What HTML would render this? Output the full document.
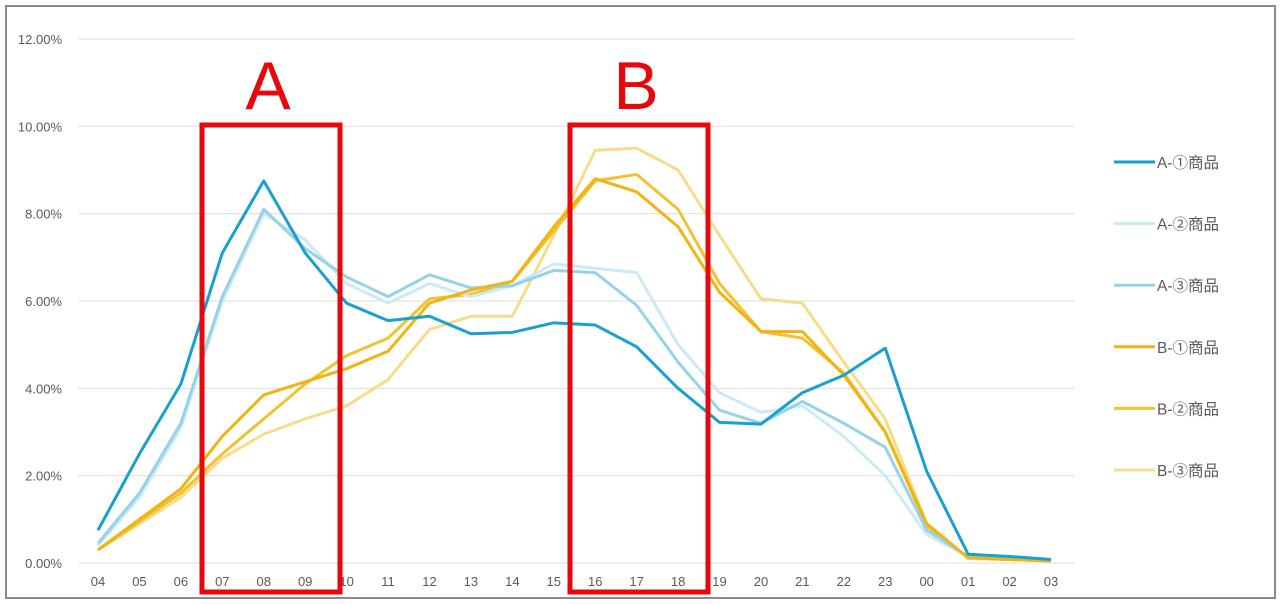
<!DOCTYPE html>
<html><head><meta charset="utf-8"><style>
html,body{margin:0;padding:0;background:#fff;}
svg{display:block;font-family:"Liberation Sans","Noto Sans CJK JP",sans-serif;}
</style></head><body>
<svg id="c" width="1280" height="604" xmlns="http://www.w3.org/2000/svg">
<rect x="6" y="6" width="1269" height="592" fill="#fff" stroke="#8a8a8a" stroke-width="2"/>
<g id="grid"></g><g id="series"></g><g id="legend"></g>
<g>
<rect x="202" y="125" width="138" height="467" fill="none" stroke="#e8070a" stroke-width="5"/>
<text x="268" y="109" font-size="68" fill="#e8070a" text-anchor="middle">A</text>
</g>
<g>
<rect x="570" y="125" width="138" height="467" fill="none" stroke="#e8070a" stroke-width="5"/>
<text x="636" y="109" font-size="68" fill="#e8070a" text-anchor="middle">B</text>
</g>
</svg>
<script>
const categories=["04","05","06","07","08","09","10","11","12","13","14","15","16","17","18","19","20","21","22","23","00","01","02","03"];
const yTicks=[0,2,4,6,8,10,12];
const seriesNames=["A-①商品","A-②商品","A-③商品","B-①商品","B-②商品","B-③商品"];
const a1=[0.75,2.5,4.1,7.1,8.75,7.1,5.95,5.55,5.65,5.25,5.28,5.5,5.45,4.95,4.0,3.22,3.18,3.9,4.3,4.92,2.1,0.2,0.15,0.08];
const a2=[0.4,1.5,3.1,6.0,8.0,7.4,6.4,5.95,6.4,6.1,6.35,6.85,6.75,6.65,5.0,3.9,3.45,3.6,2.9,2.0,0.65,0.15,0.1,0.05];
const a3=[0.45,1.6,3.2,6.1,8.1,7.2,6.55,6.1,6.6,6.3,6.35,6.7,6.65,5.9,4.6,3.5,3.2,3.7,3.2,2.65,0.75,0.15,0.1,0.05];
const b1=[0.3,1.0,1.7,2.9,3.85,4.15,4.45,4.85,5.95,6.25,6.45,7.7,8.8,8.5,7.7,6.2,5.3,5.3,4.3,3.0,0.9,0.12,0.08,0.05];
const b2=[0.3,0.95,1.6,2.5,3.3,4.1,4.75,5.15,6.05,6.15,6.45,7.6,8.75,8.9,8.1,6.4,5.3,5.15,4.35,3.0,0.85,0.12,0.08,0.05];
const b3=[0.3,0.9,1.5,2.4,2.95,3.3,3.6,4.2,5.35,5.65,5.65,7.5,9.45,9.5,9.0,7.5,6.05,5.95,4.6,3.3,0.9,0.1,0.08,0.05];
const NS="http://www.w3.org/2000/svg";
const x=i=>98+i*(1051-98)/(categories.length-1);
const y=v=>563-v*(563-39)/12;
function mk(t,a,p){const e=document.createElementNS(NS,t);for(const k in a)e.setAttribute(k,a[k]);p.appendChild(e);return e;}
const grid=document.getElementById('grid');
yTicks.forEach(v=>{
 const l=mk('line',{x1:78,x2:1075,y1:y(v),y2:y(v),stroke:'#dedede','stroke-width':1},grid);
 
 
 const t=mk('text',{x:62,y:y(v)+5,'font-size':13,fill:'#595959','text-anchor':'end'},grid);
 t.textContent=v.toFixed(2)+'%';
 
 
});
categories.forEach((c,i)=>{
 const t=mk('text',{x:x(i),y:586,'font-size':13,fill:'#595959','text-anchor':'middle'},grid);
 t.textContent=c;
 
 
});
const data=[a1,a2,a3,b1,b2,b3];
const colors=["#1aa0d0","#cdeaf4","#95d3e8","#f0b413","#f3c230","#f8dc8a"];
const widths=[3,3,3,3,3,3];
const order=[5,4,1,2,3,0];
const sg=document.getElementById('series');
order.forEach(s=>{
 const p=mk('polyline',{points:data[s].map((v,i)=>x(i)+','+y(v)).join(' '),fill:'none',stroke:colors[s],'stroke-width':widths[s],'stroke-linejoin':'round'},sg);
 
 
});
const lg=document.getElementById('legend');
seriesNames.forEach((n,s)=>{
 const yy=162+s*61.6;
 const g=mk('g',{},lg);
 
 
 mk('line',{x1:1114,x2:1155,y1:yy,y2:yy,stroke:colors[s],'stroke-width':3},g);
 const t=mk('text',{x:1157,y:yy+6,'font-size':15.5,fill:'#595959'},g);
 t.textContent=n;
});
</script>
</body></html>
